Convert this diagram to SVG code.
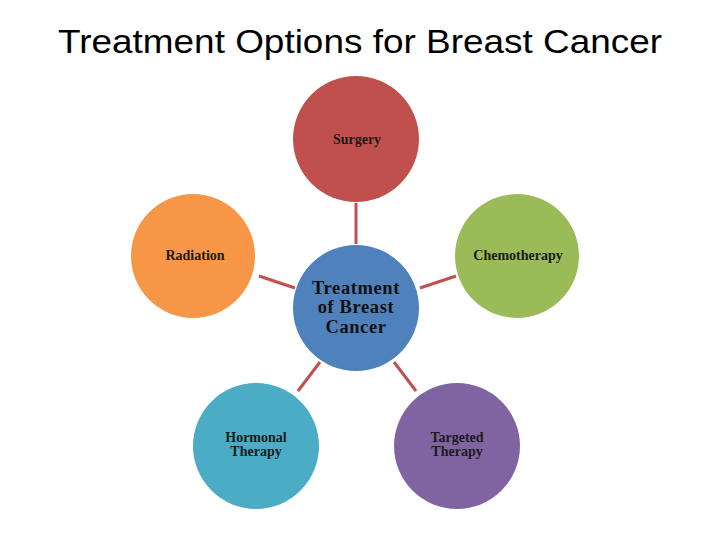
<svg xmlns="http://www.w3.org/2000/svg" width="720" height="540" viewBox="0 0 720 540">
<style>
.t{font-family:"Liberation Serif",serif;font-weight:bold;font-size:14px;fill:#1a1a1a;text-anchor:middle}
.c{font-family:"Liberation Serif",serif;font-weight:bold;font-size:18.5px;fill:#111;text-anchor:middle;letter-spacing:0.6px}
.ln{stroke:#c0504d;stroke-width:3;fill:none}
</style>
<rect width="720" height="540" fill="#fff"/>
<text x="58" y="53" font-family="Liberation Sans,Arial,sans-serif" font-size="34" fill="#000" textLength="604" lengthAdjust="spacingAndGlyphs">Treatment Options for Breast Cancer</text>
<g id="connectors">
<line class="ln" x1="356" y1="203" x2="356" y2="244"/>
<line class="ln" x1="259" y1="276" x2="295" y2="288"/>
<line class="ln" x1="420" y1="288" x2="456" y2="276"/>
<line class="ln" x1="298" y1="391" x2="320" y2="362"/>
<line class="ln" x1="394" y1="362" x2="416" y2="391"/>
</g>
<g id="surgery"><circle cx="356" cy="139" r="63" fill="#c0504d"/><text class="t" x="357" y="144">Surgery</text></g>
<g id="radiation"><circle cx="193" cy="256" r="62" fill="#f79646"/><text class="t" x="195" y="260">Radiation</text></g>
<g id="chemotherapy"><circle cx="517" cy="256" r="62" fill="#9bbb59"/><text class="t" x="518" y="260">Chemotherapy</text></g>
<g id="center"><circle cx="356" cy="308" r="63" fill="#4f81bd"/><text class="c" x="356" y="294">Treatment</text><text class="c" x="356" y="313">of Breast</text><text class="c" x="356" y="333">Cancer</text></g>
<g id="hormonal"><circle cx="256" cy="446" r="63" fill="#4bacc6"/><text class="t" x="256" y="442">Hormonal</text><text class="t" x="256" y="456">Therapy</text></g>
<g id="targeted"><circle cx="457" cy="446" r="63" fill="#8064a2"/><text class="t" x="457" y="442">Targeted</text><text class="t" x="457" y="456">Therapy</text></g>
</svg>
